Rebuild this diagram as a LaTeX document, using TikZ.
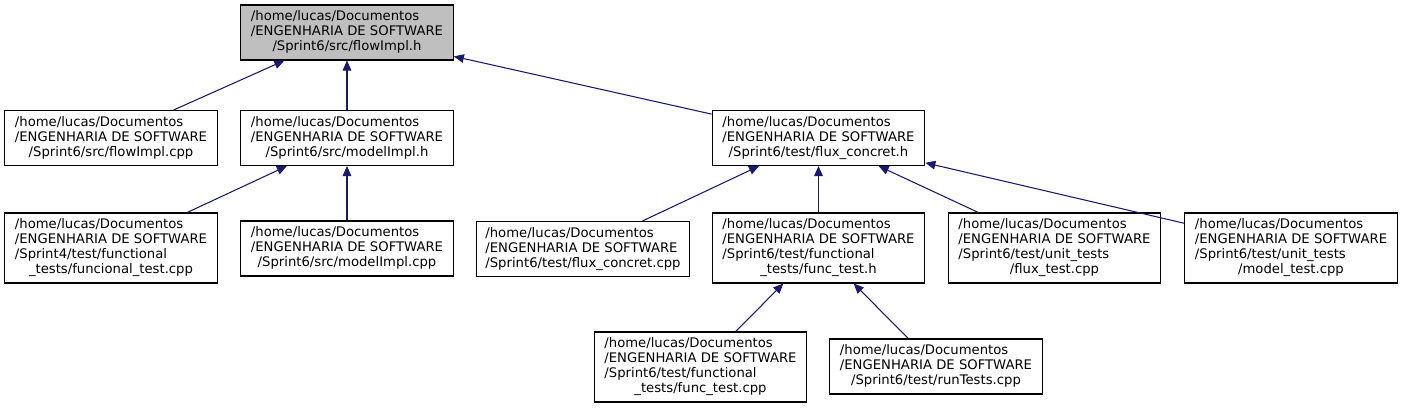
\documentclass[tikz,border=0pt]{standalone}
\usepackage{fontspec}
\setmainfont{DejaVu Sans}
\usetikzlibrary{arrows.meta}
\definecolor{edgec}{HTML}{191970}
\definecolor{hilite}{HTML}{BFBFBF}
\newcommand{\lbl}[1]{\begin{tabular}{@{}l@{}}#1\end{tabular}}
\newcommand{\cl}[1]{\multicolumn{1}{@{}c@{}}{#1}}
\tikzset{
  box/.style={draw=black, line width=0.8pt, fill=white, minimum width=159.5pt, inner sep=0pt,
    font=\fontsize{9.9}{11.25}\selectfont},
  hthree/.style={minimum height=41.25pt},
  hfour/.style={minimum height=52.5pt},
  edge/.style={draw=edgec, line width=0.8pt, {Triangle[length=7.5pt,width=6.5pt]}-}
}
\begin{document}
\begin{tikzpicture}[x=0.75pt,y=-0.75pt]
\useasboundingbox (0,0) rectangle (1403,408);
\node[box,hthree,fill=hilite] (top) at (347,32.5) {\lbl{/home/lucas/Documentos\\/ENGENHARIA DE SOFTWARE\\\cl{/Sprint6/src/flowImpl.h}}};
\node[box,hthree] (fcpp) at (111,138) {\lbl{/home/lucas/Documentos\\/ENGENHARIA DE SOFTWARE\\\cl{/Sprint6/src/flowImpl.cpp}}};
\node[box,hthree] (mh) at (347,138) {\lbl{/home/lucas/Documentos\\/ENGENHARIA DE SOFTWARE\\\cl{/Sprint6/src/modelImpl.h}}};
\node[box,hthree] (fch) at (818.5,138) {\lbl{/home/lucas/Documentos\\/ENGENHARIA DE SOFTWARE\\\cl{/Sprint6/test/flux\_concret.h}}};
\node[box,hfour] (funcional) at (111,248) {\lbl{/home/lucas/Documentos\\/ENGENHARIA DE SOFTWARE\\/Sprint4/test/functional\\\cl{\_tests/funcional\_test.cpp}}};
\node[box,hthree] (mcpp) at (347,248.5) {\lbl{/home/lucas/Documentos\\/ENGENHARIA DE SOFTWARE\\\cl{/Sprint6/src/modelImpl.cpp}}};
\node[box,hthree] (fccpp) at (583,249) {\lbl{/home/lucas/Documentos\\/ENGENHARIA DE SOFTWARE\\\cl{/Sprint6/test/flux\_concret.cpp}}};
\node[box,hfour] (fth) at (818.5,248) {\lbl{/home/lucas/Documentos\\/ENGENHARIA DE SOFTWARE\\/Sprint6/test/functional\\\cl{\_tests/func\_test.h}}};
\node[box,hfour] (flt) at (1054.5,248) {\lbl{/home/lucas/Documentos\\/ENGENHARIA DE SOFTWARE\\/Sprint6/test/unit\_tests\\\cl{/flux\_test.cpp}}};
\node[box,hfour] (mt) at (1291,248) {\lbl{/home/lucas/Documentos\\/ENGENHARIA DE SOFTWARE\\/Sprint6/test/unit\_tests\\\cl{/model\_test.cpp}}};
\node[box,hfour] (ftc) at (700.5,367) {\lbl{/home/lucas/Documentos\\/ENGENHARIA DE SOFTWARE\\/Sprint6/test/functional\\\cl{\_tests/func\_test.cpp}}};
\node[box,hthree] (rt) at (936,366.5) {\lbl{/home/lucas/Documentos\\/ENGENHARIA DE SOFTWARE\\\cl{/Sprint6/test/runTests.cpp}}};
\draw[edge] (top) -- (fcpp);
\draw[edge] (top) -- (mh);
\draw[edge] (top) -- (fch);
\draw[edge] (mh) -- (funcional);
\draw[edge] (mh) -- (mcpp);
\draw[edge] (fch) -- (fccpp);
\draw[edge] (fch) -- (fth);
\draw[edge] (fch) -- (flt);
\draw[edge] (fch) -- (mt);
\draw[edge] (fth) -- (ftc);
\draw[edge] (fth) -- (rt);
\end{tikzpicture}
\end{document}
